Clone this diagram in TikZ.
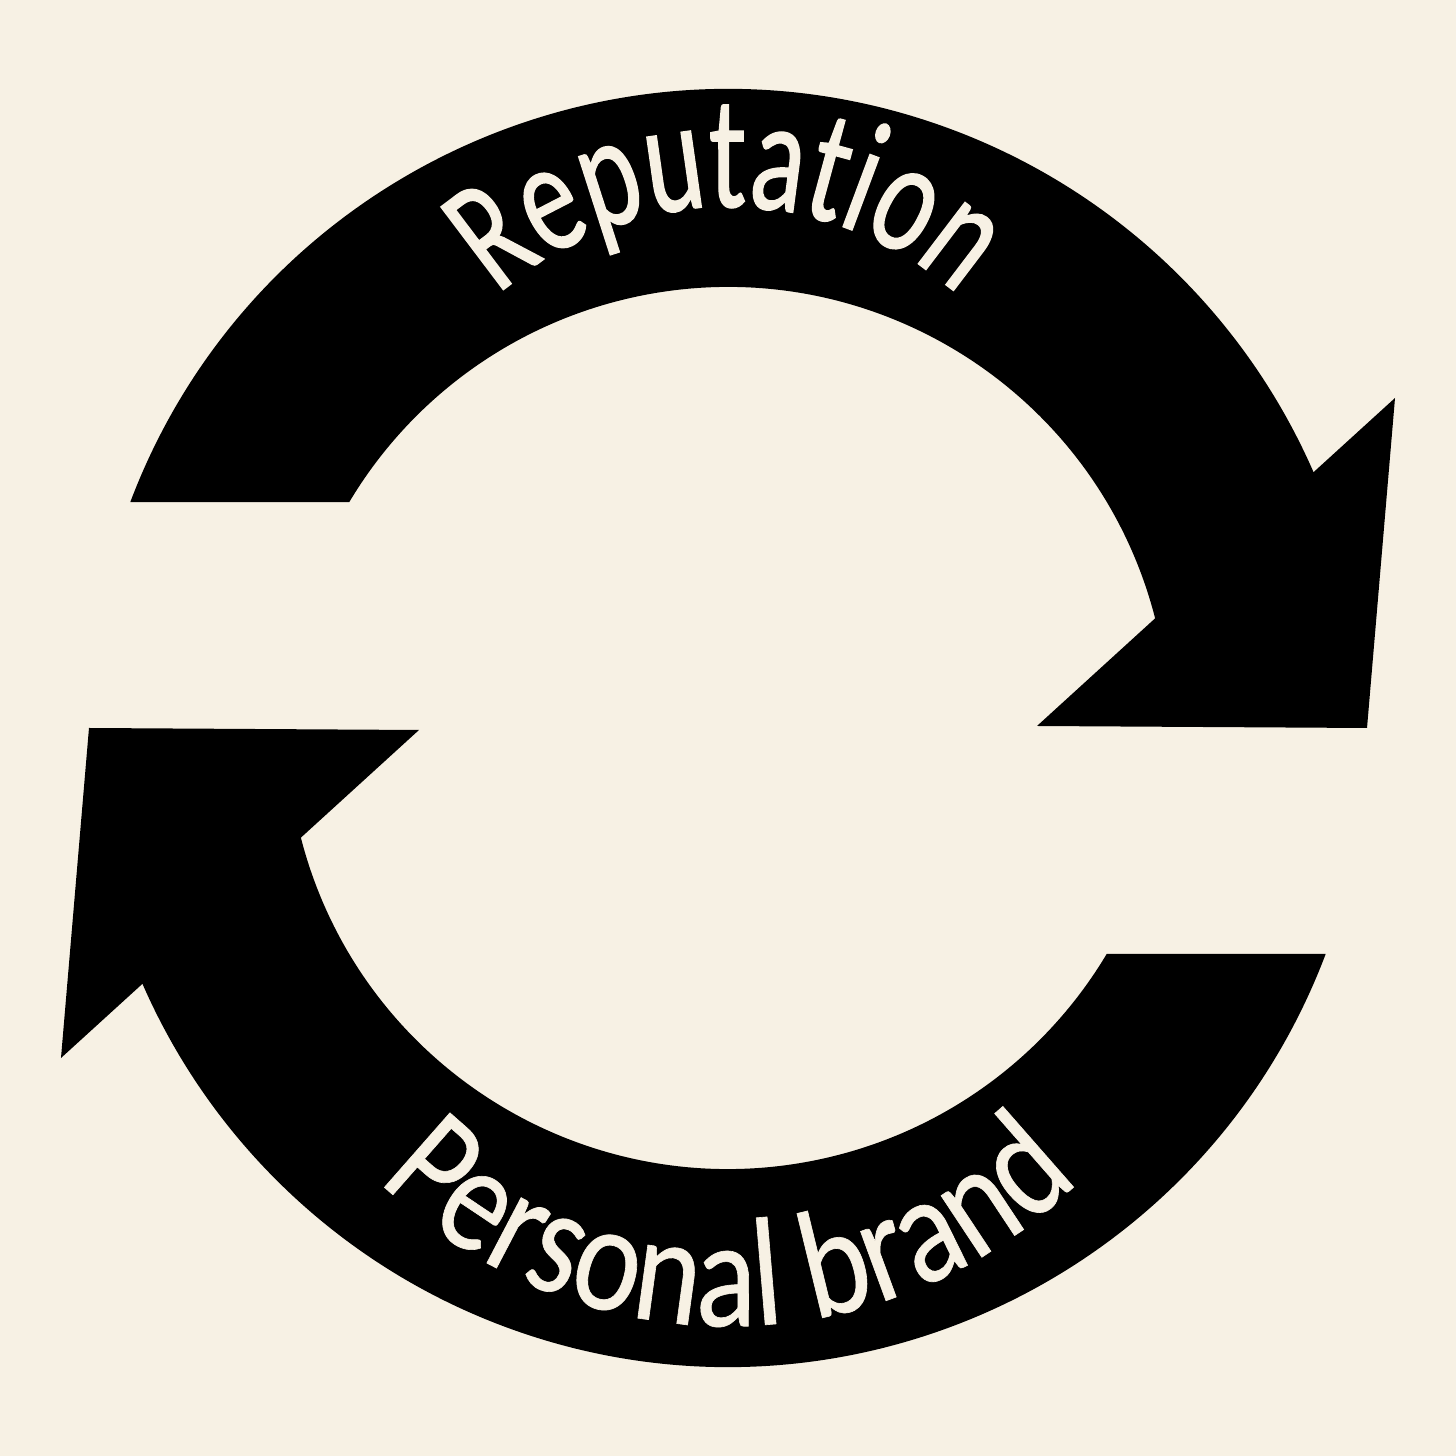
\documentclass[tikz,border=0pt]{standalone}
\usepackage{fontspec}
\usetikzlibrary{decorations.text}
\newfontfamily\topfont[FakeStretch=0.69,FakeBold=0.8]{Carlito}
\newfontfamily\botfont[FakeStretch=0.82,FakeBold=0.4]{Carlito}
\definecolor{cream}{HTML}{F7F1E4}
\tikzset{
  band/.style={fill=black, draw=none},
  curvetext/.style={decorate, decoration={text along path, text align=center, text color=cream, text={#1}}}
}
\begin{document}
\begin{tikzpicture}
\fill[cream] (-7.28,-7.28) rectangle (7.28,7.28);
\useasboundingbox (-7.28,-7.28) rectangle (7.28,7.28);
% top arrow
\fill[band] (159.3:6.39) arc[start angle=159.3, end angle=23.6, radius=6.39]
  -- (6.67,3.30) -- (6.39,0) -- (3.09,0.02) -- (14.4:4.41)
  arc[start angle=14.4, end angle=149.2, radius=4.41] -- cycle;
% bottom arrow (rotated copy)
\begin{scope}[rotate=180]
\fill[band] (159.3:6.39) arc[start angle=159.3, end angle=23.6, radius=6.39]
  -- (6.67,3.30) -- (6.39,0) -- (3.09,0.02) -- (14.4:4.41)
  arc[start angle=14.4, end angle=149.2, radius=4.41] -- cycle;
\end{scope}
% texts
\path[curvetext={|\topfont\fontsize{46}{46}\selectfont|Reputation}]
  ([shift={(150:3.43)}]0,1.78) arc[start angle=150, end angle=30, radius=3.43];
\path[curvetext={|\botfont\fontsize{44}{44}\selectfont|Personal brand}]
  ([shift={(210:4.95)}]0.01,-1.03) arc[start angle=210, end angle=330, radius=4.95];
\end{tikzpicture}
\end{document}
